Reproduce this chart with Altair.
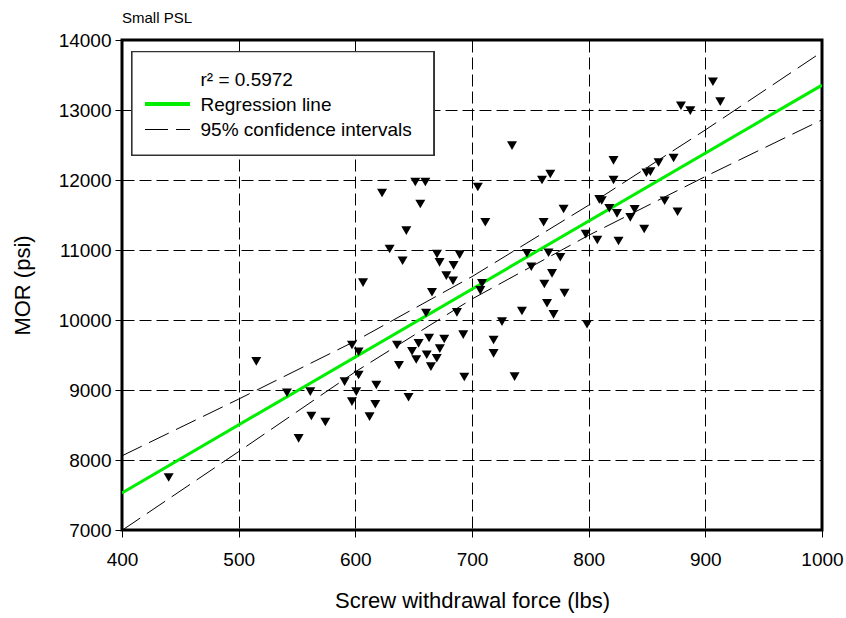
import altair as alt
import pandas as pd

# ---- data ----
force = [622.9, 651.4, 660.0, 655.7, 705.0, 643.7, 629.4, 640.5, 670.0, 689.4,
         672.2, 684.2, 678.0, 683.7, 606.6, 665.7, 660.6, 687.1, 692.5, 663.2,
         597.1, 602.8, 635.7, 654.2, 676.2, 672.4, 648.6, 652.2, 661.2, 669.8,
         664.8, 637.4, 693.4, 602.8, 590.8, 618.0, 541.4, 561.4, 600.8, 597.1,
         617.1, 645.6, 562.3, 574.3, 612.2, 551.4, 515.1, 440.0,
         734.3, 821.3, 859.9, 872.8, 849.5, 852.9, 767.1, 760.0, 821.3, 809.1,
         811.2, 778.5, 817.7, 839.4, 865.1, 824.3, 835.7, 711.4, 761.4, 847.6,
         797.5, 807.4, 825.6, 747.1, 765.6, 775.7, 750.8, 768.6, 708.6, 707.1,
         762.0, 779.3, 764.3, 742.8, 769.9, 725.7, 798.6, 718.5, 718.5, 736.5,
         906.5, 912.8, 879.1, 887.1, 876.2]
mor = [11814, 11971, 11971, 11657, 11900, 11276, 11014, 10847, 10943, 10933,
       10824, 10781, 10633, 10561, 10533, 10396, 10100, 10110, 9790, 9743,
       9643, 9547, 9643, 9667, 9729, 9590, 9553, 9436, 9504, 9453,
       9333, 9353, 9186, 9214, 9119, 9071, 8961, 8976, 8976, 8833,
       8796, 8896, 8629, 8543, 8619, 8310, 9410, 7750,
       12490, 12281, 12250, 12314, 12104, 12119, 12086, 12000, 12000, 11724,
       11707, 11586, 11596, 11581, 11704, 11524, 11467, 11396, 11396, 11300,
       11226, 11143, 11129, 10953, 10961, 10896, 10761, 10667, 10524, 10424,
       10514, 10386, 10239, 10129, 10081, 9976, 9939, 9714, 9524, 9190,
       13404, 13119, 13061, 12990, 11547]

reg_x = [400, 1000]
reg_y = [7530, 13355]

ci_x = [400, 500, 600, 700, 800, 900, 1000]
ci_upper = [8060, 8870, 9700, 10620, 11640, 12715, 13830]
ci_lower = [6995, 8120, 9260, 10300, 11210, 12050, 12860]

x_ticks = [400, 500, 600, 700, 800, 900, 1000]
y_ticks = [7000, 8000, 9000, 10000, 11000, 12000, 13000, 14000]

FONT = "Liberation Sans"

pts = pd.DataFrame({"force": force, "mor": mor})
reg = pd.DataFrame({"force": reg_x, "mor": reg_y})
ci = pd.concat([
    pd.DataFrame({"force": ci_x, "mor": ci_upper, "bound": "upper"}),
    pd.DataFrame({"force": ci_x, "mor": ci_lower, "bound": "lower"}),
])

common_axis = dict(grid=True, gridDash=[12, 5], gridColor="black", gridWidth=1,
                   gridOpacity=1, domain=False, ticks=True, tickSize=7,
                   tickColor="black", tickWidth=1, labelFont=FONT,
                   labelFontSize=19, labelColor="black", labelFlush=False,
                   labelOverlap=False, titleFont=FONT, titleFontSize=22,
                   titleFontWeight="normal", titleColor="black", format="d")

x_axis = alt.Axis(values=x_ticks, title="Screw withdrawal force (lbs)",
                  labelPadding=13, titleX=350, titleY=70,
                  titleBaseline="middle", titleAlign="center", **common_axis)
y_axis = alt.Axis(values=y_ticks, title="MOR (psi)", labelPadding=4,
                  titleX=-100, titleY=245, titleAngle=270,
                  titleBaseline="middle", titleAlign="center", **common_axis)

xs = alt.Scale(domain=[400, 1000], nice=False, zero=False)
ys = alt.Scale(domain=[7000, 14000], nice=False, zero=False)

def X():
    return alt.X("force:Q", scale=xs, axis=x_axis)

def Y():
    return alt.Y("mor:Q", scale=ys, axis=y_axis)

points = alt.Chart(pts).mark_point(shape="triangle-down", filled=True,
                                   color="black", size=100, opacity=1).encode(x=X(), y=Y())

reg_line = alt.Chart(reg).mark_line(color="#00ee00", strokeWidth=3, clip=True).encode(x=X(), y=Y())

ci_lines = alt.Chart(ci).mark_line(color="black", strokeWidth=1, strokeDash=[22, 8],
                                   clip=True).encode(x=X(), y=Y(), detail="bound:N")

# legend box
legend_box = alt.Chart(pts).mark_rect(fill="white", stroke="#333333", strokeWidth=1.2).encode(
    x=alt.value(10), x2=alt.value(311.7), y=alt.value(11.7), y2=alt.value(115))

leg_texts = pd.DataFrame({
    "t": ["r\u00b2 = 0.5972", "Regression line", "95% confidence intervals"],
    "yy": [40, 65, 90],
})
legend_text = alt.Chart(leg_texts).mark_text(align="left", baseline="middle", font=FONT,
                                             fontSize=19, color="black").encode(
    x=alt.value(78.5), y=alt.Y("yy:Q", scale=None), text="t:N")

leg_green = alt.Chart(pts).mark_rule(color="#00ee00", strokeWidth=3).encode(
    x=alt.value(23), x2=alt.value(68), y=alt.value(64))
leg_dash = alt.Chart(pts).mark_rule(color="black", strokeWidth=1, strokeDash=[23, 8]).encode(
    x=alt.value(23), x2=alt.value(68), y=alt.value(89.5))

small_title = alt.Chart(pd.DataFrame({"t": ["Small PSL"]})).mark_text(
    align="left", baseline="middle", font=FONT, fontSize=15, color="black").encode(
    x=alt.value(0), y=alt.value(-22), text="t:N")

chart = alt.layer(
    ci_lines, reg_line, points, legend_box, legend_text, leg_green, leg_dash, small_title
).properties(
    width=700, height=490,
    autosize=alt.AutoSizeParams(type="none"),
    padding={"left": 122, "top": 40, "right": 24, "bottom": 88},
    background="white",
).configure_view(
    stroke="black", strokeWidth=3
)

chart.save("out.html", embed_options={"renderer": "svg", "actions": False})
